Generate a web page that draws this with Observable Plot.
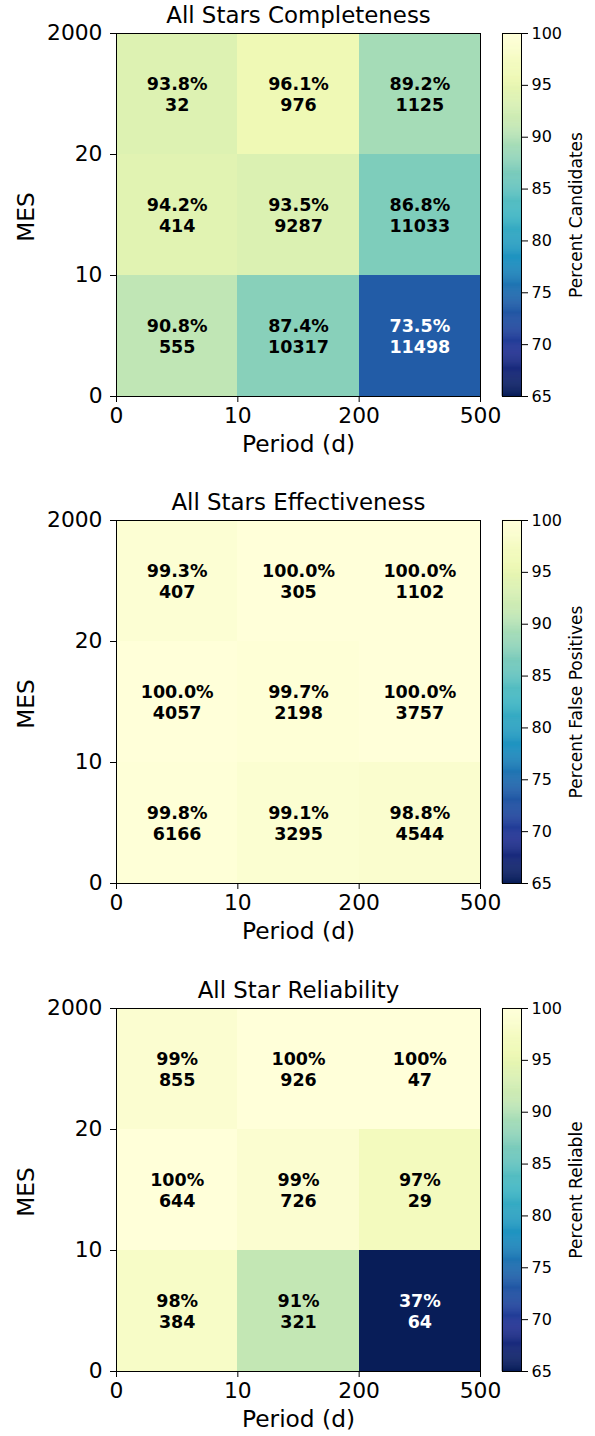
<!DOCTYPE html>
<html><head><meta charset="utf-8">
<script src="https://cdn.jsdelivr.net/npm/d3@7"></script>
<script src="https://cdn.jsdelivr.net/npm/@observablehq/plot@0.6"></script>
<style>
body{margin:0;background:#fff;font-family:"DejaVu Sans",sans-serif}
.panel{position:relative;width:595px}
.panel svg{position:absolute;top:0;left:0}
</style>
</head><body><div id="chart"></div>
<script>
// Bin edges (tick labels)
const periodTicks = ["0", "10", "200", "500"];
const mesTicks = ["0", "10", "20", "2000"];
// Rows ordered from lowest MES bin (0-10) to highest (20-2000); columns by period bin
const completenessPct = [[90.8, 87.4, 73.5], [94.2, 93.5, 86.8], [93.8, 96.1, 89.2]];
const completenessN   = [[555, 10317, 11498], [414, 9287, 11033], [32, 976, 1125]];
const effectivenessPct = [[99.8, 99.1, 98.8], [100.0, 99.7, 100.0], [99.3, 100.0, 100.0]];
const effectivenessN   = [[6166, 3295, 4544], [4057, 2198, 3757], [407, 305, 1102]];
const reliabilityPct = [[98, 91, 37], [100, 99, 97], [99, 100, 100]];
const reliabilityN   = [[384, 321, 64], [644, 726, 29], [855, 926, 47]];
const titles = ["All Stars Completeness", "All Stars Effectiveness", "All Star Reliability"];
const cbarLabels = ["Percent Candidates", "Percent False Positives", "Percent Reliable"];
const decimals = [1, 1, 0];
const colorTicks = [65, 70, 75, 80, 85, 90, 95, 100];
// matplotlib YlGnBu control colors
const ylgnbu = ["#ffffd9","#edf8b1","#c7e9b4","#7fcdbb","#41b6c4","#1d91c0","#225ea8","#253494","#081d58"];

const panelsPct = [completenessPct, effectivenessPct, reliabilityPct];
const panelsN = [completenessN, effectivenessN, reliabilityN];
const heights = [487, 488, 461];
const FONT = "DejaVu Sans";

const colorOpts = {
  type: "linear",
  domain: d3.range(9).map(i => 65 + i * 35 / 8),
  range: ylgnbu.slice().reverse(),
  interpolate: "rgb",
  clamp: true
};

const root = document.getElementById("chart");

panelsPct.forEach((pctRows, p) => {
  const H = heights[p];
  const mt = 33, mb = H - 33 - 363;
  const cells = [];
  pctRows.forEach((row, r) => row.forEach((v, c) => {
    cells.push({col: c, row: r, pct: v, n: panelsN[p][r][c],
      label: v.toFixed(decimals[p]) + "%\n" + panelsN[p][r][c]});
  }));

  const div = document.createElement("div");
  div.className = "panel";
  div.style.height = H + "px";
  root.appendChild(div);

  const main = Plot.plot({
    width: 595, height: H,
    marginLeft: 116, marginRight: 115, marginTop: mt, marginBottom: mb,
    style: {fontFamily: FONT, color: "black", background: "transparent", overflow: "visible"},
    x: {domain: [0, 3]},
    y: {domain: [0, 3]},
    color: colorOpts,
    marks: [
      Plot.rect(cells, {x1: d => d.col, x2: d => d.col + 1, y1: d => d.row, y2: d => d.row + 1,
        fill: d => d.pct, shapeRendering: "crispEdges"}),
      Plot.text(cells.filter(d => d.pct >= 80), {x: d => d.col + 0.5, y: d => d.row + 0.5,
        text: "label", fill: "black", fontWeight: "bold", fontSize: 17.5, lineHeight: 1.15, fontFamily: FONT}),
      Plot.text(cells.filter(d => d.pct < 80), {x: d => d.col + 0.5, y: d => d.row + 0.5,
        text: "label", fill: "white", fontWeight: "bold", fontSize: 17.5, lineHeight: 1.15, fontFamily: FONT}),
      Plot.frame({stroke: "black", strokeWidth: 1}),
      Plot.axisX({ticks: [0, 1, 2, 3], tickFormat: d => periodTicks[d], tickSize: 6, tickPadding: 5,
        fontSize: 21.8, label: null, stroke: "black"}),
      Plot.axisY({ticks: [0, 1, 2, 3], tickFormat: d => mesTicks[d], tickSize: 6, tickPadding: 8,
        fontSize: 21.8, label: null, stroke: "black"}),
      Plot.text([titles[p]], {frameAnchor: "top", lineAnchor: "middle", textAnchor: "middle", dy: -18, fontSize: 22.9, fontFamily: FONT, fill: "black"}),
      Plot.text(["Period (d)"], {frameAnchor: "bottom", lineAnchor: "middle", textAnchor: "middle", dy: 48, fontSize: 23.3, fontFamily: FONT, fill: "black"}),
      Plot.text(["MES"], {frameAnchor: "left", lineAnchor: "middle", textAnchor: "middle", dx: -90, dy: 2, rotate: -90, fontSize: 23.3, fontFamily: FONT, fill: "black"})
    ]
  });
  div.appendChild(main);

  const grad = d3.range(65, 100, 0.1).map(v => ({v0: v, v1: Math.min(100, v + 0.1)}));
  const cbar = Plot.plot({
    width: 115, height: H,
    marginLeft: 22, marginRight: 74, marginTop: mt, marginBottom: mb,
    style: {fontFamily: FONT, color: "black", background: "transparent", overflow: "visible"},
    x: {domain: [0, 1], axis: null},
    y: {domain: [65, 100]},
    color: colorOpts,
    marks: [
      Plot.rect(grad, {x1: 0, x2: 1, y1: "v0", y2: "v1", fill: d => (d.v0 + d.v1) / 2,
        stroke: d => (d.v0 + d.v1) / 2, strokeWidth: 0.5}),
      Plot.frame({stroke: "black", strokeWidth: 1}),
      Plot.axisY({anchor: "right", ticks: colorTicks, tickSize: 6, tickPadding: 4, fontSize: 16,
        label: null, stroke: "black"}),
      Plot.text([cbarLabels[p]], {frameAnchor: "right", lineAnchor: "middle", textAnchor: "middle", dx: 55, rotate: -90, fontSize: 17.1, fontFamily: FONT, fill: "black"})
    ]
  });
  cbar.style.left = "480px";
  div.appendChild(cbar);
});
</script></body></html>
